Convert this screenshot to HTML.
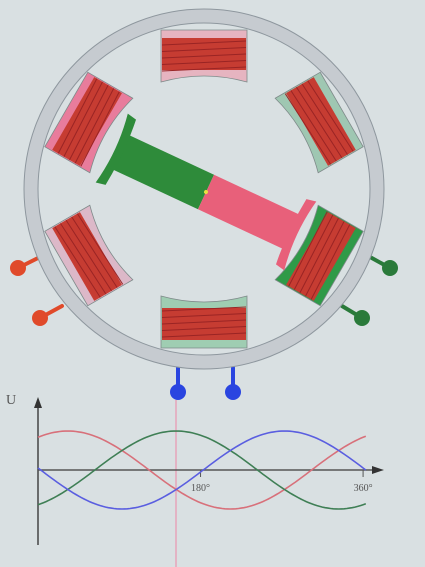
<!DOCTYPE html>
<html><head><meta charset="utf-8"><style>
html,body{margin:0;padding:0;background:#d9e0e2;}
svg{display:block;}
text{font-family:"Liberation Serif",serif;}
</style></head><body>
<svg width="425" height="567" viewBox="0 0 425 567">
<rect x="0" y="0" width="425" height="567" fill="#d9e0e2"/>
<g stroke-width="4" stroke-linecap="round">
<line x1="18" y1="268" x2="38" y2="258" stroke="#e04a2a"/>
<line x1="40" y1="318" x2="62" y2="306" stroke="#e04a2a"/>
<line x1="390" y1="268" x2="370" y2="257" stroke="#2a7a3a"/>
<line x1="362" y1="318" x2="342" y2="306" stroke="#2a7a3a"/>
<line x1="178" y1="392" x2="178" y2="368" stroke="#2a45e0"/>
<line x1="233" y1="392" x2="233" y2="368" stroke="#2a45e0"/>
</g>
<circle cx="18" cy="268" r="8" fill="#e04a2a"/>
<circle cx="40" cy="318" r="8" fill="#e04a2a"/>
<circle cx="390" cy="268" r="8" fill="#2a7a3a"/>
<circle cx="362" cy="318" r="8" fill="#2a7a3a"/>
<circle cx="178" cy="392" r="8" fill="#2a45e0"/>
<circle cx="233" cy="392" r="8" fill="#2a45e0"/>
<circle cx="204" cy="189" r="173" fill="none" stroke="#c6cbd0" stroke-width="14"/>
<circle cx="204" cy="189" r="180" fill="none" stroke="#8e979e" stroke-width="1"/>
<circle cx="204" cy="189" r="166" fill="none" stroke="#8e979e" stroke-width="1"/>
<g id="coils"></g>
<g transform="translate(206,192) rotate(25)">
<rect x="-94" y="-19" width="94" height="38" fill="#2e8b3a"/>
<rect x="0" y="-19" width="94" height="38" fill="#e8607a"/>
<path d="M -104,-38 Q -97,0 -104,38 L -94,36 Q -90,0 -94,-36 Z" fill="#2e8b3a"/>
<path d="M 104,-38 Q 97,0 104,38 L 94,36 Q 90,0 94,-36 Z" fill="#e8607a"/>
<circle cx="0" cy="0" r="2" fill="#e8e040"/>
</g>
<line x1="176" y1="400" x2="176" y2="567" stroke="#e8a0b8" stroke-width="2" opacity="0.7"/>
<line x1="38" y1="545" x2="38" y2="405" stroke="#444" stroke-width="1.5"/>
<polygon points="38,397 34,408 42,408" fill="#333"/>
<line x1="38" y1="470" x2="375" y2="470" stroke="#555" stroke-width="1.5"/>
<polygon points="384,470 372,466 372,474" fill="#333"/>
<text x="6" y="404" font-size="14" fill="#555">U</text>
<g id="ticks"></g>
<g id="curves"></g>
</svg>
<script>
const ns="http://www.w3.org/2000/svg";
const coilAngles=[-90,-30,30,90,150,210];
const coilNames=["top","upper-right","lower-right","bottom","lower-left","upper-left"];
const coilShell=["#e6b4c0","#9fc7b2","#2f9a48","#9fcdb2","#dcb8c8","#e87c9c"];
const seriesNames=["red","green","blue"];
const seriesColors=["#d8707a","#3f7f55","#5a5ee0"];
const seriesPeakDeg=[33,153,273];
const amplitude=[1,1,1];
const tickDeg=[180,360];
const tickLabels=["180°","360°"];
const x0=38,pxPerDeg=0.903,y0=470,ampPx=39;
const xs=d=>x0+d*pxPerDeg;
const ys=v=>y0-v*ampPx;
const cg=document.getElementById('coils');
coilAngles.forEach((a,i)=>{
  const g=document.createElementNS(ns,'g');
  g.setAttribute('transform','translate(204,189) rotate('+(a+90)+')');
  
  
  const p=document.createElementNS(ns,'path');
  p.setAttribute('d','M -43,-159 L 43,-159 L 43,-107 Q 0,-119 -43,-107 Z');
  p.setAttribute('fill',coilShell[i]);p.setAttribute('stroke','#7f8a8a');p.setAttribute('stroke-width','0.8');
  
  
  g.appendChild(p);
  const w=document.createElementNS(ns,'rect');
  w.setAttribute('x',-42);w.setAttribute('y',-151);w.setAttribute('width',84);w.setAttribute('height',32);
  w.setAttribute('fill','#c63c32');
  
  
  g.appendChild(w);
  for(let k=0;k<5;k++){
    const l=document.createElementNS(ns,'line');
    const y=-146+k*6.5;
    l.setAttribute('x1',-42);l.setAttribute('x2',42);l.setAttribute('y1',y+2);l.setAttribute('y2',y-2);
    l.setAttribute('stroke','#9a2424');l.setAttribute('stroke-width','1');
    
    
    g.appendChild(l);
  }
  cg.appendChild(g);
});
const tg=document.getElementById('ticks');
tickDeg.forEach((d,i)=>{
  const l=document.createElementNS(ns,'line');
  l.setAttribute('x1',xs(d));l.setAttribute('x2',xs(d));l.setAttribute('y1',470);l.setAttribute('y2',477);
  l.setAttribute('stroke','#555');
  
  
  tg.appendChild(l);
  const t=document.createElementNS(ns,'text');
  t.setAttribute('x',xs(d));t.setAttribute('y',491);t.setAttribute('font-size','10');t.setAttribute('fill','#555');
  t.setAttribute('text-anchor','middle');
  t.textContent=tickLabels[i];
  
  
  tg.appendChild(t);
});
const cv=document.getElementById('curves');
seriesNames.forEach((n,i)=>{
  let d='';
  for(let deg=0;deg<=365;deg+=3){
    const v=amplitude[i]*Math.cos((deg-seriesPeakDeg[i])*Math.PI/180);
    d+=(deg?'L':'M')+xs(deg).toFixed(1)+','+ys(v).toFixed(1);
  }
  const p=document.createElementNS(ns,'path');
  p.setAttribute('d',d);p.setAttribute('fill','none');p.setAttribute('stroke',seriesColors[i]);p.setAttribute('stroke-width','1.6');
  
  
  cv.appendChild(p);
});
</script>
</body></html>
